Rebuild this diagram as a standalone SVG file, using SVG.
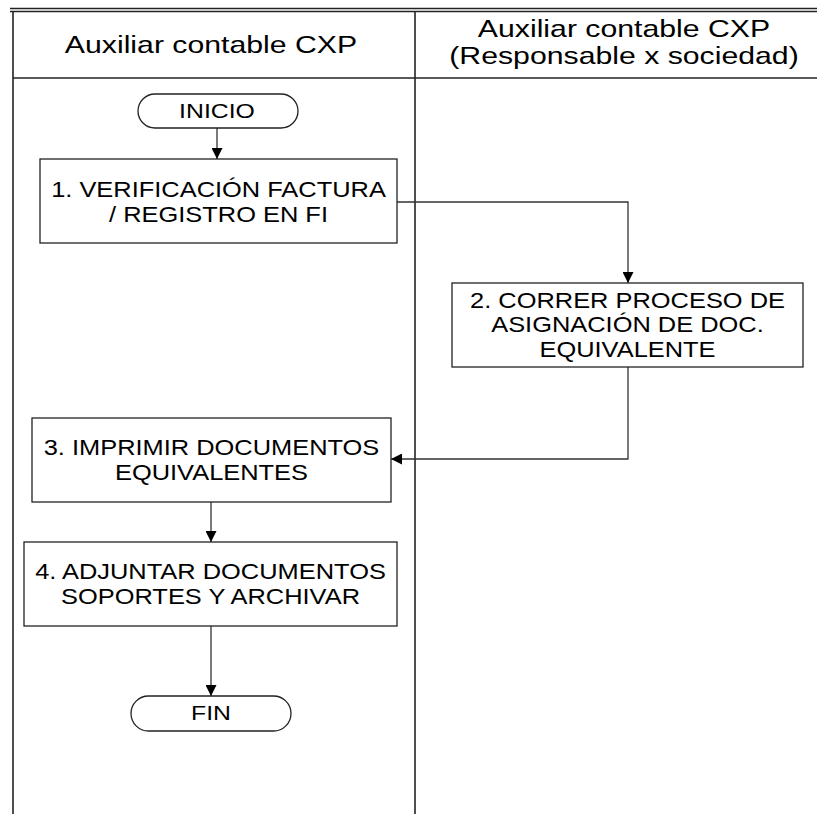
<svg xmlns="http://www.w3.org/2000/svg" width="817" height="814" viewBox="0 0 817 814">
<defs>
<style>
.lane{stroke:#222;stroke-width:1.6;fill:none}
.box{fill:#fff;stroke:#222;stroke-width:1.3}
.conn{stroke:#333;stroke-width:1.3;fill:none}
text{font-family:"Liberation Sans",Arial,sans-serif;fill:#000;text-anchor:middle}
.hd{font-size:24px}
.bx{font-size:22.5px}
.tm{font-size:20px}
</style>
<marker id="arr" viewBox="0 0 10 10" refX="10" refY="5" markerWidth="11" markerHeight="11" markerUnits="userSpaceOnUse" orient="auto">
<path d="M0,0 L10,5 L0,10 Z" fill="#000"/>
</marker>
</defs>
<rect width="817" height="814" fill="#fff"/>
<g id="lanes">
<line class="lane" x1="10" y1="8.5" x2="817" y2="8.5"/>
<line class="lane" x1="10" y1="11.5" x2="817" y2="11.5"/>
<line class="lane" x1="13" y1="11" x2="13" y2="814"/>
<line class="lane" x1="415" y1="11" x2="415" y2="814"/>
<line class="lane" x1="13" y1="78" x2="817" y2="78"/>
<text class="hd" transform="translate(211,53) scale(1.26,1)">Auxiliar contable CXP</text>
<text class="hd" transform="translate(624,37) scale(1.26,1)">Auxiliar contable CXP</text>
<text class="hd" transform="translate(624,64) scale(1.26,1)">(Responsable x sociedad)</text>
</g>
<g id="connectors">
<path class="conn" d="M217,128 V159" marker-end="url(#arr)"/>
<path class="conn" d="M397,202 H628 V283" marker-end="url(#arr)"/>
<path class="conn" d="M628,367 V459 H391" marker-end="url(#arr)"/>
<path class="conn" d="M211,502 V542" marker-end="url(#arr)"/>
<path class="conn" d="M211,626 V696" marker-end="url(#arr)"/>
</g>
<g id="inicio">
<rect class="box" x="138" y="94" width="160" height="34" rx="17" ry="17"/>
<text class="tm" transform="translate(217,118) scale(1.24,1)">INICIO</text>
</g>
<g id="step1">
<rect class="box" x="40" y="159" width="357" height="84"/>
<text class="bx" transform="translate(218.5,197) scale(1.13,1)">1. VERIFICACIÓN FACTURA</text>
<text class="bx" transform="translate(218.5,222) scale(1.13,1)">/ REGISTRO EN FI</text>
</g>
<g id="step2">
<rect class="box" x="452" y="283" width="351" height="84"/>
<text class="bx" transform="translate(627.5,308) scale(1.13,1)">2. CORRER PROCESO DE</text>
<text class="bx" transform="translate(627.5,332) scale(1.13,1)">ASIGNACIÓN DE DOC.</text>
<text class="bx" transform="translate(627.5,357) scale(1.13,1)">EQUIVALENTE</text>
</g>
<g id="step3">
<rect class="box" x="32" y="418" width="359" height="84"/>
<text class="bx" transform="translate(211.5,455) scale(1.13,1)">3. IMPRIMIR DOCUMENTOS</text>
<text class="bx" transform="translate(211.5,480) scale(1.13,1)">EQUIVALENTES</text>
</g>
<g id="step4">
<rect class="box" x="24" y="542" width="373" height="84"/>
<text class="bx" transform="translate(210.5,579) scale(1.13,1)">4. ADJUNTAR DOCUMENTOS</text>
<text class="bx" transform="translate(210.5,604) scale(1.13,1)">SOPORTES Y ARCHIVAR</text>
</g>
<g id="fin">
<rect class="box" x="131" y="696" width="160" height="35" rx="17.5" ry="17.5"/>
<text class="tm" transform="translate(211,720) scale(1.24,1)">FIN</text>
</g>
</svg>
